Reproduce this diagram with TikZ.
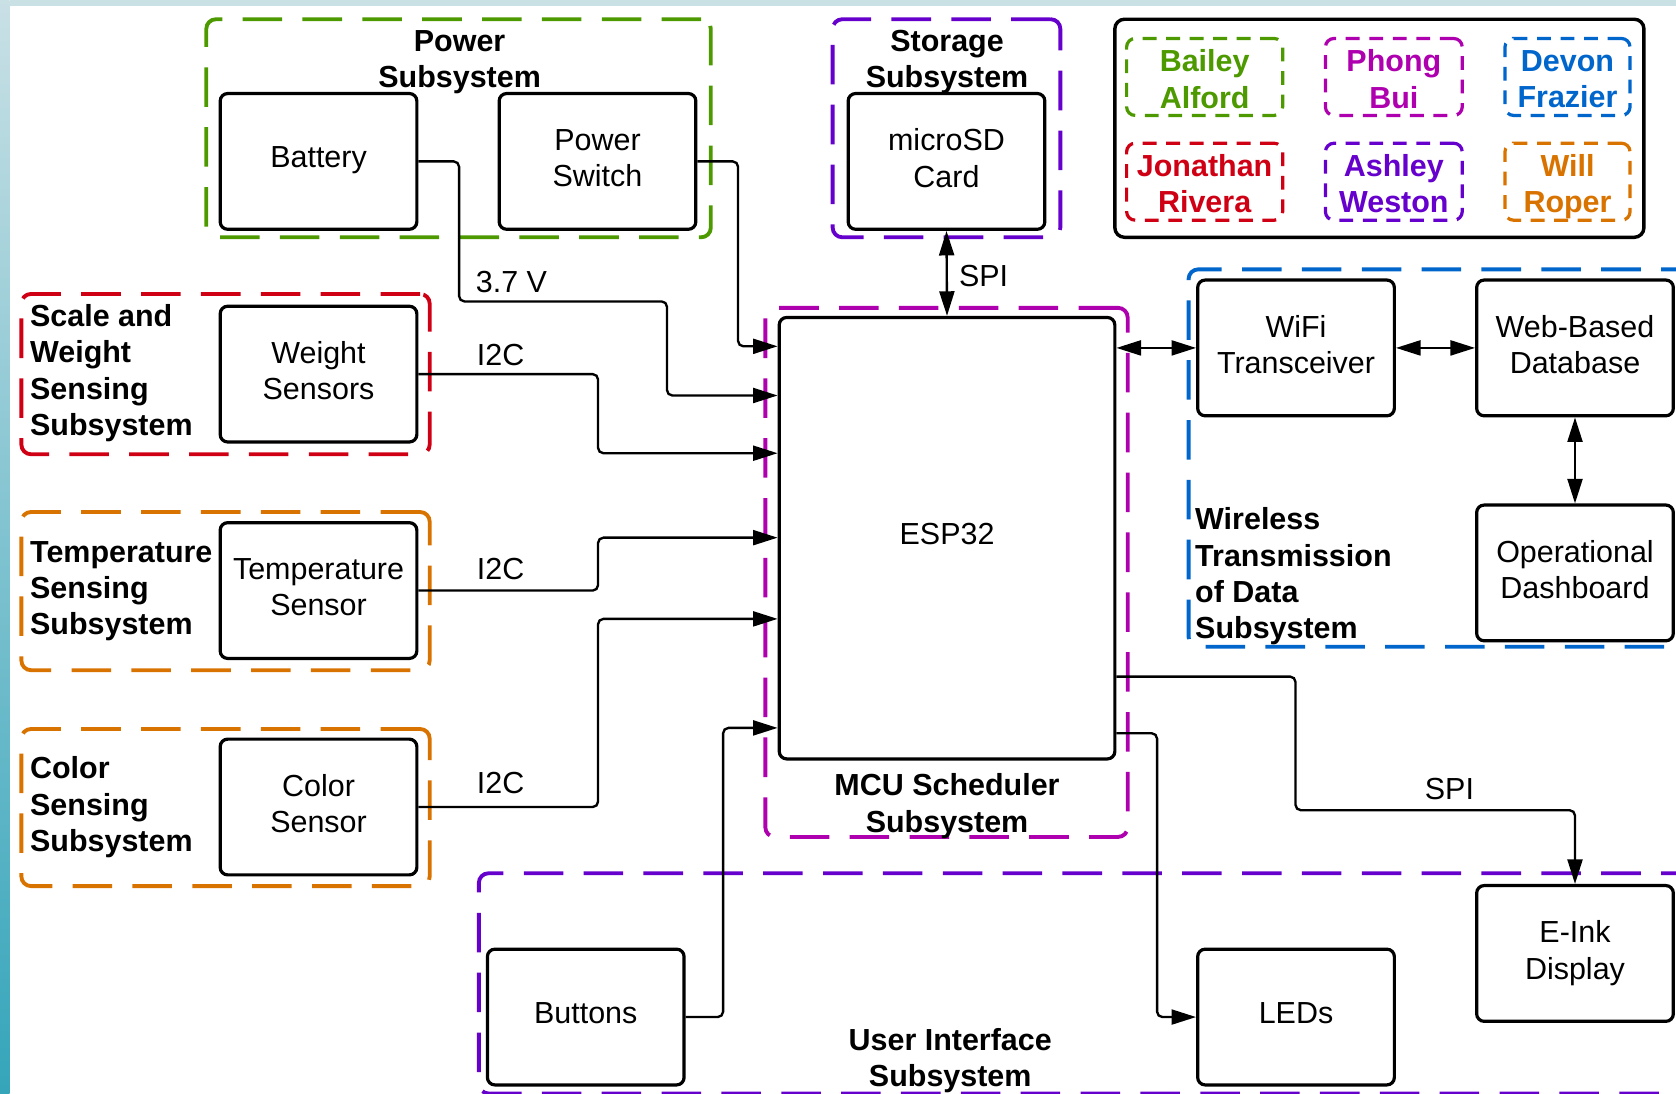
\documentclass[tikz,border=0pt]{standalone}
\usepackage{fontspec}
\setmainfont{Liberation Sans}
\usetikzlibrary{arrows.meta}
\definecolor{cgreen}{RGB}{77,153,0}
\definecolor{cmag}{RGB}{175,0,175}
\definecolor{cblue}{RGB}{0,102,204}
\definecolor{cred}{RGB}{208,0,20}
\definecolor{cpurp}{RGB}{102,0,204}
\definecolor{corange}{RGB}{217,115,0}
\definecolor{bandtop}{RGB}{201,224,229}
\definecolor{bandbot}{RGB}{53,165,186}
\tikzstyle{box} = [rectangle, draw, line width=3pt, rounded corners=7pt,
    minimum width=184pt, minimum height=127pt, inner sep=0pt, align=center,
    font=\fontsize{28.5}{34}\selectfont]
\tikzstyle{blk} = [box, execute at begin node={\rule{0pt}{24pt}},
    execute at end node={\vrule width 0pt depth 6.5pt}]
\tikzstyle{blkone} = [box, execute at begin node={\rule{0pt}{24pt}},
    execute at end node={\vrule width 0pt depth 12.5pt}]
\tikzstyle{grp} = [rectangle, draw, dash pattern=on 37pt off 19pt,
    line width=3.6pt, rounded corners=9pt, inner sep=0pt]
\tikzstyle{who} = [rectangle, draw, dash pattern=on 13pt off 9pt, line width=3pt,
    rounded corners=8pt, minimum height=72pt, inner sep=0pt]
\tikzstyle{ttl} = [inner sep=0pt, align=center, font=\bfseries\fontsize{28.5}{34}\selectfont,
    execute at begin node={\rule{0pt}{24pt}},
    execute at end node={\vrule width 0pt depth 12.5pt}]
\tikzstyle{lbl} = [inner sep=0pt, font=\fontsize{28.5}{34}\selectfont]
\tikzstyle{wire} = [->, line width=2.2pt, rounded corners=5pt]
\tikzstyle{link} = [<->, line width=2.2pt]

\begin{document}
\begin{tikzpicture}[x=1pt,y=-1pt,>={Triangle[length=23pt,width=14pt]}]

  \useasboundingbox (0,0) rectangle (1568,1023);
  \fill[white] (0,0) rectangle (1568,1023);
  \shade[top color=bandtop, bottom color=bandbot] (0,0) rectangle (9,1023);
  \fill[bandtop] (9,0) rectangle (1568,6);

  % subsystem groups
  \node[grp, cgreen, minimum width=472pt, minimum height=204pt]  (pwrgrp)   at (429,120) {};
  \node[grp, cpurp, minimum width=213pt, minimum height=204pt]   (stogrp)   at (885.5,120) {};
  \node[grp, cred, minimum width=382pt, minimum height=150pt]    (scalegrp) at (211,350) {};
  \node[grp, corange, minimum width=382pt, minimum height=148pt] (tempgrp)  at (211,553) {};
  \node[grp, corange, minimum width=382pt, minimum height=147pt] (colgrp)   at (211,755.5) {};
  \node[grp, cmag, minimum width=339pt, minimum height=495pt]    (mcugrp)   at (885.5,535.5) {};
  \node[grp, cblue, minimum width=488pt, minimum height=353pt]   (wlgrp)    at (1356,428.5) {};
  \node[grp, cpurp, minimum width=1152pt, minimum height=206pt]  (uigrp)    at (1024,920) {};

  \node[ttl] (pwrttl) at (430,61.5) {Power\\Subsystem};
  \node[ttl] (stottl) at (886,61.5) {Storage\\Subsystem};
  \node[ttl, anchor=west, align=left] (scalettl) at (28,352.5) {Scale and\\Weight\\Sensing\\Subsystem};
  \node[ttl, anchor=west, align=left] (tempttl)  at (28,556.5) {Temperature\\Sensing\\Subsystem};
  \node[ttl, anchor=west, align=left] (colttl)   at (28,758.5) {Color\\Sensing\\Subsystem};
  \node[ttl] (mcuttl) at (886,757.5) {MCU Scheduler\\Subsystem};
  \node[ttl, anchor=west, align=left] (wlttl) at (1118,542.5) {Wireless\\Transmission\\of Data\\Subsystem};
  \node[ttl] (uittl) at (889,995.5) {User Interface\\Subsystem};

  % legend
  \node[rectangle, draw, line width=3.2pt, rounded corners=9pt,
        minimum width=495pt, minimum height=204pt] (legend) at (1290.5,120) {};
  \node[who, cgreen, minimum width=146pt,
        label={[ttl, cgreen, yshift=-8pt]center:Bailey\\Alford}] (bailey) at (1127,72) {};
  \node[who, cmag, minimum width=128pt,
        label={[ttl, cmag, yshift=-8pt]center:Phong\\Bui}] (phong) at (1304,72) {};
  \node[who, cblue, minimum width=117pt,
        label={[ttl, cblue, yshift=-8pt]center:Devon\\Frazier}] (devon) at (1466.5,72) {};
  \node[who, cred, minimum width=146pt,
        label={[ttl, cred, yshift=-8pt]center:Jonathan\\Rivera}] (jonathan) at (1127,170) {};
  \node[who, cpurp, minimum width=128pt,
        label={[ttl, cpurp, yshift=-8pt]center:Ashley\\Weston}] (ashley) at (1304,170) {};
  \node[who, corange, minimum width=117pt,
        label={[ttl, corange, yshift=-8pt]center:Will\\Roper}] (will) at (1466.5,170) {};

  % blocks
  \node[blkone] (bat)  at (298,151)   {Battery};
  \node[blk] (psw)  at (559,151)      {Power\\Switch};
  \node[blk] (sd)   at (885.5,151)    {microSD\\Card};
  \node[blk] (ws)   at (298,350)      {Weight\\Sensors};
  \node[blk] (ts)   at (298,552.5)    {Temperature\\Sensor};
  \node[blk] (cs)   at (298,755)      {Color\\Sensor};
  \node[blkone, minimum width=314pt, minimum height=413pt] (esp) at (886,503.5) {ESP32};
  \node[blk] (wifi) at (1212.5,325.5) {WiFi\\Transceiver};
  \node[blk] (db)   at (1473.5,325.5) {Web-Based\\Database};
  \node[blk] (dash) at (1473.5,536)   {Operational\\Dashboard};
  \node[blk] (eink) at (1473.5,892)   {E-Ink\\Display};
  \node[blkone] (btn)  at (548,951.5)    {Buttons};
  \node[blkone] (led)  at (1212.5,951.5) {LEDs};

  % connections
  \draw[wire] (bat.east) -- ++(38,0) |- (624,282) |- (esp.west |- 0,370);
  \draw[wire] (psw.east) -- ++(38,0) |- (esp.west |- 0,324);
  \draw[wire] (ws.east) -- ++(168,0) |- (esp.west |- 0,424);
  \draw[wire] (ts.east) -- ++(168,0) |- (esp.west |- 0,503);
  \draw[wire] (cs.east) -- ++(168,0) |- (esp.west |- 0,579);
  \draw[wire] (btn.east) -- ++(35,0) |- (esp.west |- 0,681);
  \draw[wire] (esp.east |- 0,633) -| (1212,758) -| (eink.north);
  \draw[wire] (esp.east |- 0,686) -- ++(38,0) |- (led.west);

  \draw[link] (sd.south) -- (esp.north);
  \draw[link] (wifi.west -| esp.east) -- (wifi.west);
  \draw[link] (wifi.east) -- (db.west);
  \draw[link] (db.south) -- (dash.north);

  \node[lbl, anchor=west] (volt)   at (445,264) {3.7 V};
  \node[lbl, anchor=west] (wsbus)  at (446,332) {I2C};
  \node[lbl, anchor=west] (tsbus)  at (446,532) {I2C};
  \node[lbl, anchor=west] (csbus)  at (446,733) {I2C};
  \node[lbl, anchor=west] (sdbus)  at (897,258) {SPI};
  \node[lbl] (einkbus) at (1356,738) {SPI};
\end{tikzpicture}
\end{document}
